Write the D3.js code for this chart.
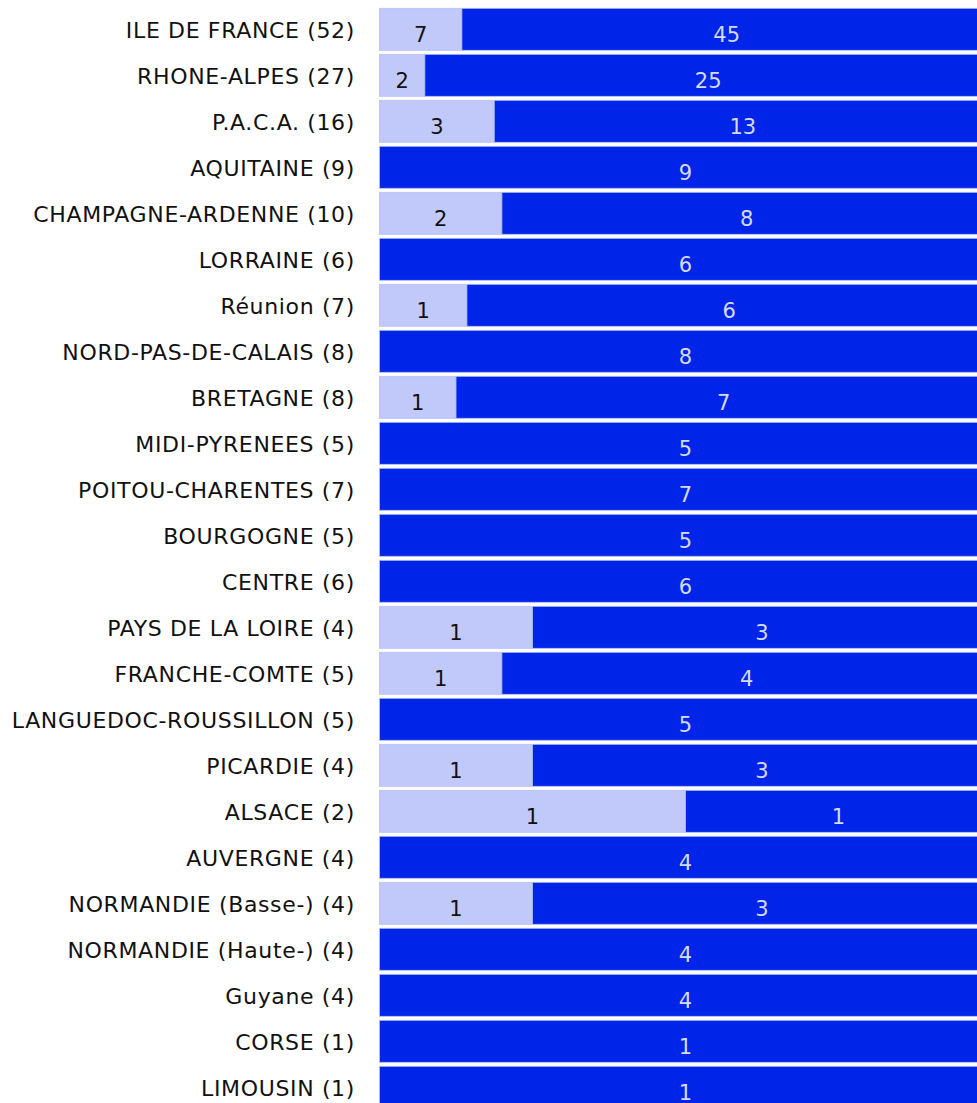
<!DOCTYPE html>
<html>
<head>
<meta charset="utf-8">
<script src="https://cdn.jsdelivr.net/npm/d3@7"></script>
<style>
  html, body { margin: 0; padding: 0; background: #fff; }
  svg { display: block; }
</style>
</head>
<body>
<svg id="chart" width="977" height="1103"></svg>
<script>
const categories = [
  "ILE DE FRANCE (52)", "RHONE-ALPES (27)", "P.A.C.A. (16)", "AQUITAINE (9)",
  "CHAMPAGNE-ARDENNE (10)", "LORRAINE (6)", "Réunion (7)", "NORD-PAS-DE-CALAIS (8)",
  "BRETAGNE (8)", "MIDI-PYRENEES (5)", "POITOU-CHARENTES (7)", "BOURGOGNE (5)",
  "CENTRE (6)", "PAYS DE LA LOIRE (4)", "FRANCHE-COMTE (5)", "LANGUEDOC-ROUSSILLON (5)",
  "PICARDIE (4)", "ALSACE (2)", "AUVERGNE (4)", "NORMANDIE (Basse-) (4)",
  "NORMANDIE (Haute-) (4)", "Guyane (4)", "CORSE (1)", "LIMOUSIN (1)"
];
const lightValues = [7, 2, 3, 0, 2, 0, 1, 0, 1, 0, 0, 0, 0, 1, 1, 0, 1, 1, 0, 1, 0, 0, 0, 0];
const darkValues  = [45, 25, 13, 9, 8, 6, 6, 8, 7, 5, 7, 5, 6, 3, 4, 5, 3, 1, 4, 3, 4, 4, 1, 1];
const seriesKeys = ["light", "dark"];

const rows = categories.map((c, i) => ({ cat: c, light: lightValues[i], dark: darkValues[i] }));
const stacked = d3.stack().keys(seriesKeys).offset(d3.stackOffsetExpand)(rows);

const svg = d3.select("#chart");
const x = d3.scaleLinear().domain([0, 1]).range([379.5, 991.5]);
const y = d3.scaleBand().domain(categories).range([8.3, 8.3 + 24 * 46 - 4])
  .paddingInner(4 / 46).paddingOuter(0);

const fill = { light: "#c0c9fa", dark: "#0025e9" };
const textFill = { light: "#111111", dark: "#d6daee" };
const font = "'DejaVu Sans', Verdana, sans-serif";

const layers = svg.append("g").selectAll("g").data(stacked).join("g");
layers.selectAll("rect")
  .data(s => s.map(d => ({ key: s.key, d })))
  .join("rect")
  .filter(o => o.d.data[o.key] > 0)
  .attr("x", o => x(o.d[0]))
  .attr("y", o => y(o.d.data.cat))
  .attr("width", o => x(o.d[1]) - x(o.d[0]))
  .attr("height", y.bandwidth())
  .attr("fill", o => fill[o.key])
  .attr("stroke", "#b4c0f6")
  .attr("stroke-width", 0.8);

layers.selectAll("text")
  .data(s => s.map(d => ({ key: s.key, d })).filter(o => o.d.data[o.key] > 0))
  .join("text")
  .attr("x", o => (x(o.d[0]) + x(o.d[1])) / 2)
  .attr("y", o => y(o.d.data.cat) + y.bandwidth() / 2 + 5)
  .attr("dy", "0.36em")
  .attr("text-anchor", "middle")
  .attr("font-family", font)
  .attr("font-size", 21)
  .attr("fill", o => textFill[o.key])
  .text(o => o.d.data[o.key]);

const yAxis = d3.axisLeft(y).tickSize(0).tickPadding(0);
const ax = svg.append("g").attr("transform", "translate(355,0)").call(yAxis);
ax.select(".domain").remove();
ax.selectAll("text")
  .attr("font-family", font)
  .attr("font-size", 22)
  .attr("letter-spacing", "0.65px")
  .attr("fill", "#111111")
  .attr("dy", "0.4em");
</script>
</body>
</html>
